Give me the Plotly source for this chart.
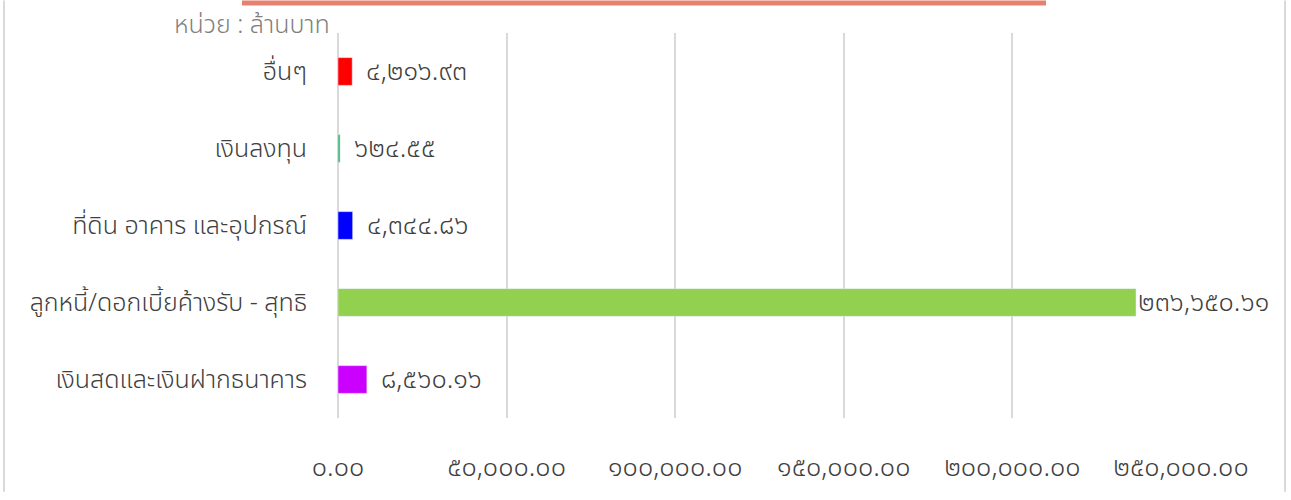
import plotly.graph_objects as go

categories = ['เงินสดและเงินฝากธนาคาร', 'ลูกหนี้/ดอกเบี้ยค้างรับ - สุทธิ',
              'ที่ดิน อาคาร และอุปกรณ์', 'เงินลงทุน', 'อื่นๆ']
values = [8560.16, 236650.61, 4344.86, 624.55, 4216.93]
bar_colors = ['#CC00FF', '#92D050', '#0000FF', '#3CB371', '#FF0000']
tick_vals = [0, 50000, 100000, 150000, 200000, 250000]

THAI_DIGITS = str.maketrans('0123456789', '๐๑๒๓๔๕๖๗๘๙')


def thai_num(v):
    return f'{v:,.2f}'.translate(THAI_DIGITS)


W, H = 1291, 500
L, R, T, B = 338, 1291 - 1181, 33, 500 - 425
pw, ph = W - L - R, H - T - B


def px_x(p):
    return (p - L) / pw


def px_y(p):
    return (H - B - p) / ph


fig = go.Figure(go.Bar(y=categories, x=values, orientation='h',
                       marker_color=bar_colors, width=0.36))

for cat, v in zip(categories, values):
    fig.add_annotation(x=v, y=cat, text=thai_num(v), showarrow=False,
                       xanchor='left', xshift=0 if v > 200000 else 12,
                       font=dict(size=27, color='#404040', weight=300))

fig.add_annotation(x=px_x(252), y=px_y(25), xref='paper', yref='paper',
                   xanchor='center', yanchor='middle',
                   text='หน่วย : ล้านบาท', showarrow=False,
                   font=dict(size=25, color='#7F7F7F', weight=300))

# salmon strip at the top and light frame
fig.add_shape(type='rect', xref='paper', yref='paper',
              x0=px_x(242), x1=px_x(1046), y0=px_y(5), y1=px_y(0),
              fillcolor='#E88070', line_width=0)
for xp in (4, 1285):
    fig.add_shape(type='line', xref='paper', yref='paper',
                  x0=px_x(xp), x1=px_x(xp), y0=px_y(500), y1=px_y(0),
                  line=dict(color='#D9D9D9', width=2))

fig.update_layout(
    width=W, height=H, margin=dict(l=L, r=R, t=T, b=B),
    plot_bgcolor='white', paper_bgcolor='white', showlegend=False,
    font=dict(family='Noto Sans Thai, Tahoma, sans-serif', color='#404040'),
)
fig.update_xaxes(range=[0, 250000], tickvals=tick_vals,
                 ticktext=[thai_num(v) for v in tick_vals],
                 showgrid=True, gridcolor='#D9D9D9', gridwidth=2,
                 zeroline=True, zerolinecolor='#D9D9D9', zerolinewidth=2,
                 showline=False, ticks='', ticklabelstandoff=30,
                 tickfont=dict(size=27, color='#404040', weight=300))
fig.update_yaxes(showgrid=False, showline=False, ticks='', ticklabelstandoff=30,
                 tickfont=dict(size=25, color='#404040', weight=300))

fig.write_html('out.html', config={'displayModeBar': False},
               post_script="document.body.style.margin = '0';"
                           "document.body.style.overflow = 'hidden';")
